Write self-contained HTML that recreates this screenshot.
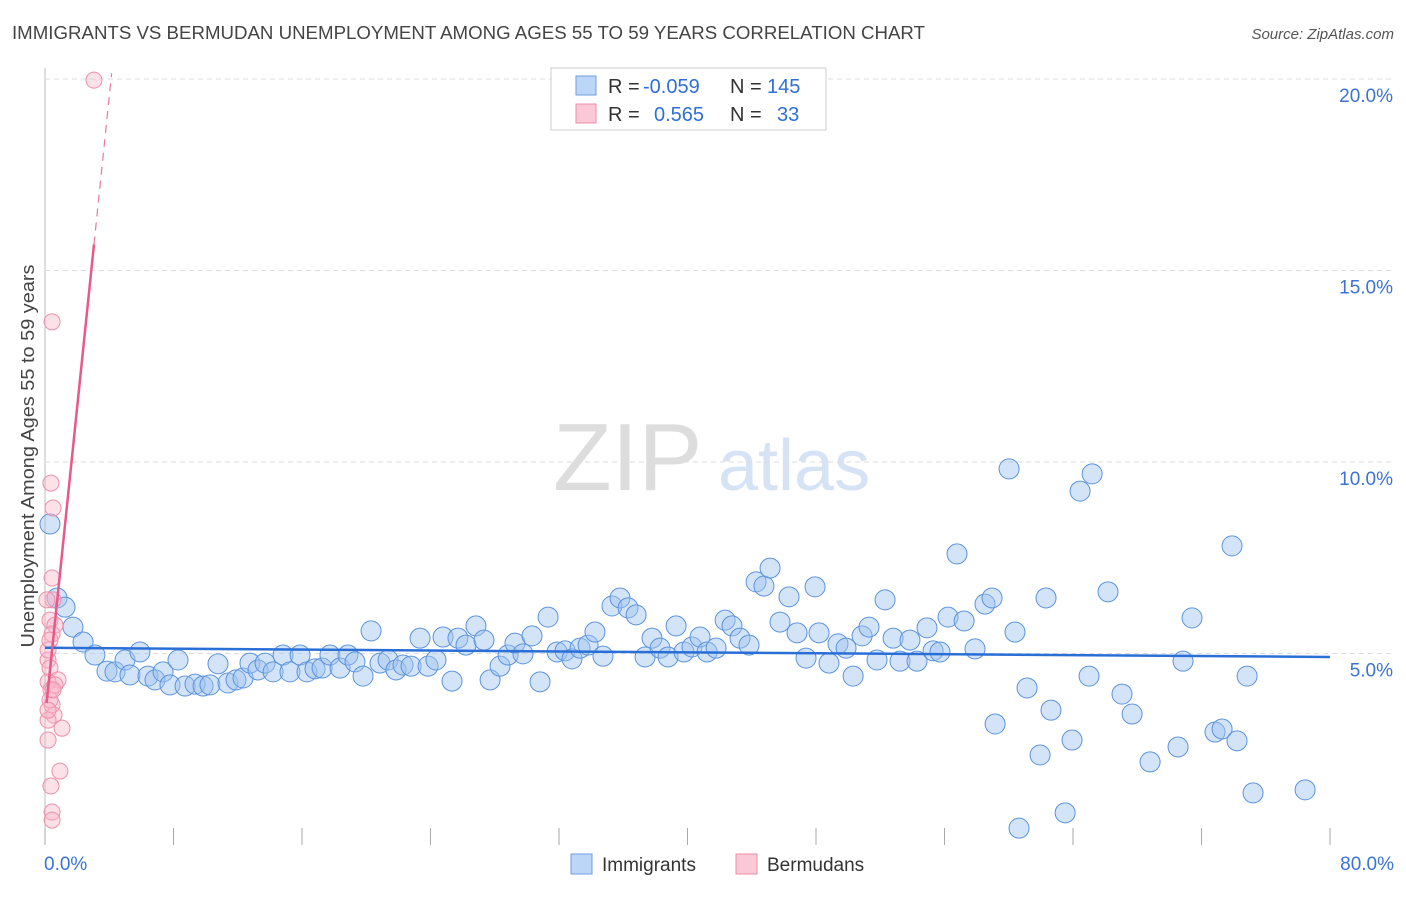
<!DOCTYPE html>
<html><head><meta charset="utf-8"><style>
html,body{margin:0;padding:0;background:#fff;}
body{width:1406px;height:892px;overflow:hidden;font-family:"Liberation Sans",sans-serif;}
svg text{font-family:"Liberation Sans",sans-serif;}
</style></head><body>
<svg id="chart" width="1406" height="892" viewBox="0 0 1406 892" xmlns="http://www.w3.org/2000/svg">
<text x="12" y="39" font-size="18" fill="#444" textLength="913" lengthAdjust="spacingAndGlyphs">IMMIGRANTS VS BERMUDAN UNEMPLOYMENT AMONG AGES 55 TO 59 YEARS CORRELATION CHART</text>
<text x="1394" y="39" font-size="15" fill="#555" text-anchor="end" font-style="italic">Source: ZipAtlas.com</text>
<text x="553" y="490" font-size="96" fill="#ddd" font-family="Liberation Serif, serif">ZIP</text>
<text x="718" y="490" font-size="72" fill="#d5e3f5">atlas</text>
<text transform="translate(34,456) rotate(-90)" font-size="18" fill="#444" text-anchor="middle" textLength="383" lengthAdjust="spacingAndGlyphs">Unemployment Among Ages 55 to 59 years</text>
<g id="grid"></g><g id="ticks"></g><g id="pts"></g><g id="trend"></g>
<g>
<rect x="551" y="68" width="275" height="62" fill="#fff" stroke="#ccc"/>
<rect x="576" y="76" width="20" height="19" fill="#bcd6f7" stroke="#6f9ee0"/>
<text x="608" y="93" font-size="20" fill="#333">R = </text><text x="643" y="93" font-size="20" fill="#2f6fd6">-0.059</text>
<text x="730" y="93" font-size="20" fill="#333">N = </text><text x="767" y="93" font-size="20" fill="#2f6fd6">145</text>
<rect x="576" y="104" width="20" height="19" fill="#fbc8d7" stroke="#ec8eaa"/>
<text x="608" y="121" font-size="20" fill="#333">R = </text><text x="654" y="121" font-size="20" fill="#2f6fd6">0.565</text>
<text x="730" y="121" font-size="20" fill="#333">N = </text><text x="777" y="121" font-size="20" fill="#2f6fd6">33</text>
</g>
<g>
<rect x="571" y="854" width="21" height="20" fill="#bcd6f7" stroke="#6f9ee0"/>
<text x="602" y="871" font-size="19" fill="#333">Immigrants</text>
<rect x="736" y="854" width="21" height="20" fill="#fbc8d7" stroke="#ec8eaa"/>
<text x="767" y="871" font-size="19" fill="#333">Bermudans</text>
</g>
</svg>
<script>
const blueX=[.31,.75,1.25,1.74,2.37,3.11,3.86,4.36,4.98,5.29,5.91,6.41,6.85,7.35,7.78,8.28,8.72,9.34,9.84,10.27,10.77,11.39,11.89,12.33,12.76,13.26,13.70,14.20,14.82,15.25,15.88,16.31,16.81,17.25,17.74,18.37,18.86,19.30,19.80,20.30,20.86,21.36,21.85,22.29,22.79,23.35,23.85,24.34,24.78,25.34,25.71,26.21,26.83,27.33,27.71,28.33,28.83,29.26,29.76,30.32,30.82,31.32,31.88,32.38,32.81,33.31,33.81,34.24,34.74,35.30,35.80,36.30,36.80,37.36,37.79,38.29,38.79,39.29,39.78,40.28,40.78,41.22,41.78,42.34,42.77,43.27,43.83,44.27,44.76,45.14,45.76,46.32,46.82,47.38,47.94,48.19,48.81,49.37,49.87,50.31,50.87,51.30,51.80,52.30,52.80,53.23,53.85,54.29,54.91,55.29,55.72,56.22,56.78,57.22,57.90,58.52,58.96,59.15,60.02,60.39,60.64,61.14,61.95,62.32,62.63,63.51,63.94,64.44,65.00,65.19,66.18,67.05,67.68,68.80,70.54,70.85,71.41,72.84,73.28,73.90,74.21,74.84,75.21,78.45];
const blueY=[8.38,6.45,6.21,5.69,5.30,4.96,4.54,4.52,4.83,4.44,5.04,4.41,4.31,4.52,4.18,4.83,4.15,4.20,4.15,4.18,4.73,4.23,4.31,4.36,4.75,4.57,4.75,4.52,4.96,4.52,4.96,4.52,4.60,4.62,4.96,4.62,4.96,4.78,4.41,5.59,4.75,4.83,4.57,4.70,4.67,5.40,4.67,4.83,5.43,4.28,5.40,5.22,5.72,5.35,4.31,4.67,4.96,5.27,4.99,5.46,4.26,5.95,5.04,5.07,4.86,5.14,5.22,5.56,4.93,6.24,6.45,6.19,6.01,4.91,5.40,5.14,4.91,5.72,5.04,5.17,5.43,5.04,5.14,5.87,5.72,5.40,5.22,6.87,6.76,7.23,5.82,6.48,5.54,4.88,6.74,5.54,4.75,5.25,5.14,4.41,5.46,5.69,4.83,6.40,5.40,4.80,5.35,4.80,5.67,5.07,5.04,5.95,7.60,5.85,5.12,6.29,6.45,3.16,9.82,5.56,0.44,4.10,2.35,6.45,3.52,0.84,2.74,9.24,4.41,9.69,6.61,3.94,3.42,2.17,2.56,4.80,5.93,2.95,3.03,7.81,2.72,4.41,1.36,1.44];
const pinkX=[3.05,.44,.37,.5,.44,.5,.31,.62,.44,.19,.31,.81,.19,.37,.44,.56,.19,1.06,.19,.93,.37,.44,.44,.19,.31,.12,.62,.31,.19,.5];
const pinkY=[19.97,13.66,9.45,8.80,6.97,6.40,5.87,5.74,5.51,4.83,4.62,4.31,4.26,4.05,3.66,3.39,3.26,3.05,2.74,1.93,1.54,.86,.65,5.09,3.79,6.40,4.18,5.35,3.52,4.05];
const yTicks=[5,10,15,20];
const xTicks=[0,8,16,24,32,40,48,56,64,72,80];
const blueTrend=[5.15,4.91];
const pinkTrend=[3.3,4.06];
const NS="http://www.w3.org/2000/svg";
const sx=v=>45+v*1285/80, sy=v=>845-v*38.3;
function mk(p,t,a){const e=document.createElementNS(NS,t);for(const k in a)e.setAttribute(k,a[k]);p.appendChild(e);return e;}
const grid=document.getElementById('grid'),ticks=document.getElementById('ticks'),pts=document.getElementById('pts'),tr=document.getElementById('trend');
const ax=mk(grid,'line',{x1:45,y1:68,x2:45,y2:845,stroke:'#bbb'});


yTicks.forEach(v=>{
 const l=mk(grid,'line',{x1:45,x2:1394,y1:sy(v),y2:sy(v),stroke:'#ddd','stroke-dasharray':'5,4'});
 
 
 const t=mk(grid,'text',{x:1393,y:sy(v)+23,'font-size':19,fill:'#3b73d6','text-anchor':'end'});t.textContent=v.toFixed(1)+'%';
 
 
});
xTicks.forEach(v=>{
 const l=mk(ticks,'line',{x1:sx(v),x2:sx(v),y1:828,y2:845,stroke:'#aaa'});
 
 
});
[[0,'start',44],[80,'end',1394]].forEach(([v,a,x])=>{
 const t=mk(ticks,'text',{x:x,y:870,'font-size':19,fill:'#3b73d6','text-anchor':a});t.textContent=v.toFixed(1)+'%';
 
 
});
blueX.forEach((x,i)=>{
 const c=mk(pts,'circle',{cx:sx(x),cy:sy(blueY[i]),r:10,fill:'rgba(160,196,240,0.45)',stroke:'#5b93de','stroke-width':1});
 
 
});
pinkX.forEach((x,i)=>{
 const c=mk(pts,'circle',{cx:sx(x),cy:sy(pinkY[i]),r:8,fill:'rgba(248,180,200,0.4)',stroke:'#ee8fab','stroke-width':1});
 
 
});
const bl=mk(tr,'line',{x1:sx(0),y1:sy(blueTrend[0]),x2:sx(80),y2:sy(blueTrend[1]),stroke:'#2a6fd6','stroke-width':2.5});


const pf=x=>pinkTrend[0]+pinkTrend[1]*x;
const ps=mk(tr,'line',{x1:sx(0.1),y1:sy(pf(0.1)),x2:sx(3.05),y2:sy(pf(3.05)),stroke:'#e8598a','stroke-width':2.5});


const pd=mk(tr,'line',{x1:sx(3.05),y1:sy(pf(3.05)),x2:sx(4.15),y2:sy(pf(4.15)),stroke:'#e8799d','stroke-width':1.2,'stroke-dasharray':'8,6'});


</script>
</body></html>
